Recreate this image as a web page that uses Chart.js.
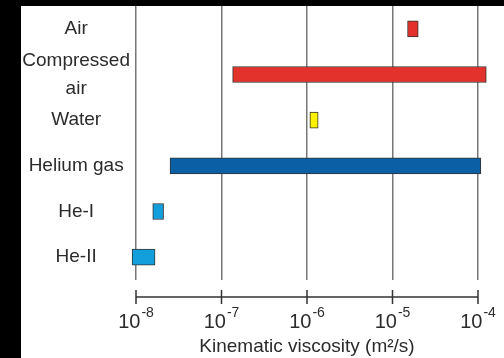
<!DOCTYPE html>
<html>
<head>
<meta charset="utf-8">
<script src="https://cdn.jsdelivr.net/npm/chart.js@4"></script>
<style>
  html, body { margin: 0; padding: 0; background: #000; width: 504px; height: 358px; overflow: hidden; }
  #wrap { position: absolute; left: 21px; top: 6px; width: 483px; height: 352px; background: #fff; }
</style>
</head>
<body>
<div id="wrap"><canvas id="chart"></canvas></div>
<script>
const categories = ["Air", ["Compressed", "air"], "Water", "Helium gas", "He-I", "He-II"];
const rangeLow = [1.5e-5, 1.35e-7, 1.08e-6, 2.5e-8, 1.57e-8, 9.0e-9];
const rangeHigh = [2.0e-5, 1.25e-4, 1.35e-6, 1.08e-4, 2.1e-8, 1.67e-8];
const tickExponents = [-8, -7, -6, -5, -4];
const axisTitle = "Kinematic viscosity (m\u00B2/s)";

const barColors = ["#e3312b", "#e3312b", "#fff200", "#0b5fa5", "#139fdc", "#139fdc"];
const fontFamily = "'Liberation Sans', Arial, Helvetica, sans-serif";
const textColor = "#2b2b2b";

const tickValues = tickExponents.map((e) => Math.pow(10, e));

// axis line sits below the grid with a gap, plus "10^n" labels with raised exponents
const bottomAxis = {
  id: "bottomAxis",
  afterDraw(chart) {
    const { ctx, chartArea, scales } = chart;
    const x = scales.x;
    const y0 = chartArea.bottom + 17;
    ctx.save();
    ctx.strokeStyle = "#333";
    ctx.lineWidth = 1.5;
    ctx.beginPath();
    ctx.moveTo(x.left, y0);
    ctx.lineTo(x.right, y0);
    x.ticks.forEach((t) => {
      const px = x.getPixelForValue(t.value);
      ctx.moveTo(px, y0 - 7);
      ctx.lineTo(px, y0 + 7);
    });
    ctx.stroke();

    ctx.fillStyle = textColor;
    ctx.textBaseline = "alphabetic";
    ctx.textAlign = "left";
    x.ticks.forEach((t, i) => {
      const px = x.getPixelForValue(t.value);
      const base = "10";
      const exp = String(tickExponents[i]);
      ctx.font = `20px ${fontFamily}`;
      const wb = ctx.measureText(base).width;
      ctx.font = `14px ${fontFamily}`;
      const we = ctx.measureText(exp).width;
      const start = px - (wb + 1 + we) / 2;
      ctx.font = `20px ${fontFamily}`;
      ctx.fillText(base, start, y0 + 31);
      ctx.font = `14px ${fontFamily}`;
      ctx.fillText(exp, start + wb + 1, y0 + 20);
    });
    ctx.restore();
  },
};

new Chart(document.getElementById("chart"), {
  type: "bar",
  data: {
    labels: categories,
    datasets: [
      {
        data: rangeLow.map((lo, i) => [lo, rangeHigh[i]]),
        backgroundColor: barColors,
        borderColor: "#333",
        borderWidth: 1,
        borderSkipped: false,
        barThickness: 16,
        clip: false,
      },
    ],
  },
  options: {
    indexAxis: "y",
    responsive: true,
    maintainAspectRatio: false,
    animation: false,
    layout: { padding: { left: 0, right: 26, top: 0, bottom: 0 } },
    plugins: {
      legend: { display: false },
      tooltip: { enabled: false },
    },
    scales: {
      x: {
        type: "logarithmic",
        min: tickValues[0],
        max: tickValues[tickValues.length - 1],
        afterBuildTicks: (scale) => {
          scale.ticks = tickValues.map((v) => ({ value: v }));
        },
        afterFit: (scale) => {
          scale.height = 78;
          scale.paddingLeft = 0;
          scale.paddingRight = 0;
        },
        grid: { color: "#777", lineWidth: 1.5, drawTicks: false },
        border: { display: false },
        ticks: { display: false },
        title: {
          display: true,
          text: axisTitle,
          color: textColor,
          font: { family: fontFamily, size: 19 },
          padding: { top: 0, bottom: 0 },
        },
      },
      y: {
        type: "category",
        afterFit: (scale) => {
          scale.width = 115;
          scale.paddingTop = 0;
          scale.paddingBottom = 0;
        },
        grid: { display: false, drawTicks: false },
        border: { display: false },
        ticks: {
          color: textColor,
          crossAlign: "center",
          autoSkip: false,
          padding: 6,
          font: { family: fontFamily, size: 19, lineHeight: 1.45 },
        },
      },
    },
  },
  plugins: [bottomAxis],
});
</script>
</body>
</html>
